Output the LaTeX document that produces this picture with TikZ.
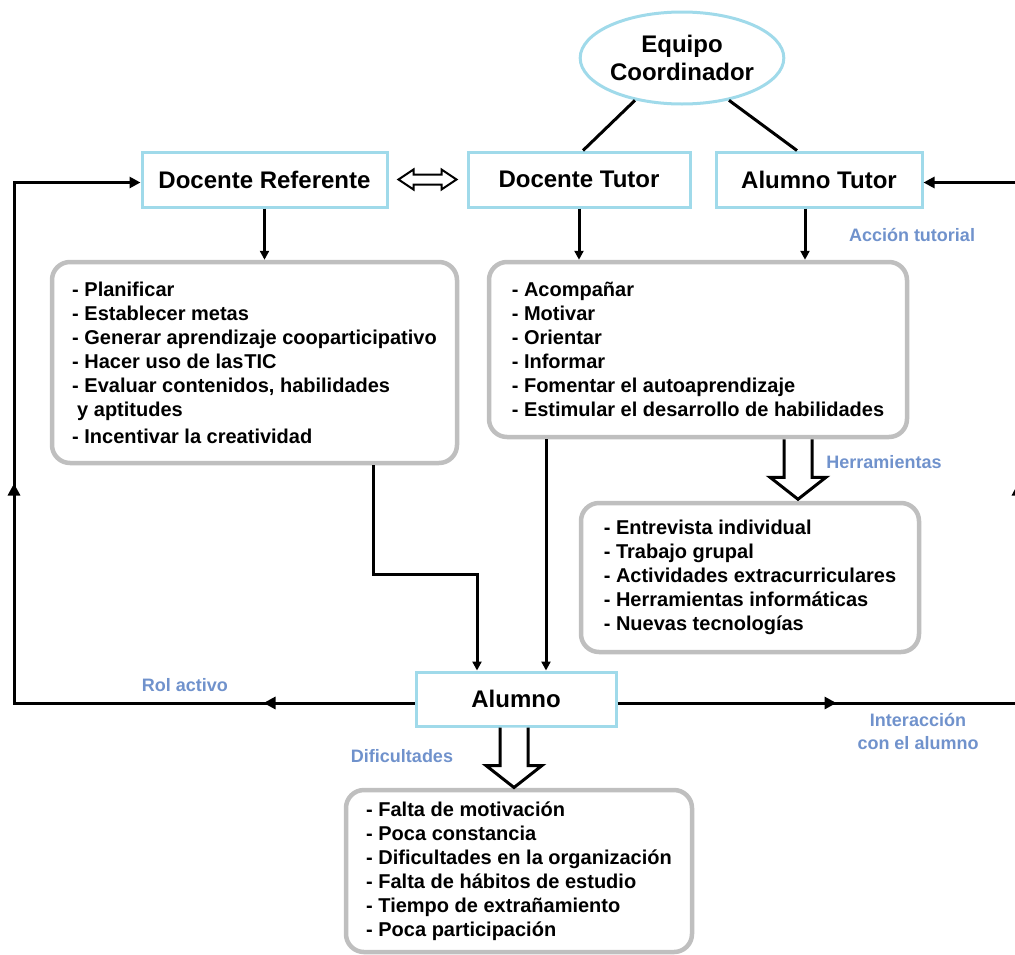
\documentclass[tikz,border=0pt]{standalone}
\usepackage{fontspec}
\setmainfont{Liberation Sans}
\usepackage{xcolor}
\usetikzlibrary{arrows.meta,positioning,shapes.geometric,decorations.markings}
\definecolor{rolecyan}{RGB}{160,218,234}
\definecolor{boxgray}{RGB}{191,191,191}
\definecolor{tagblue}{RGB}{112,146,204}

\begin{document}
\begin{tikzpicture}[
  x=1pt, y=-1pt,
  role/.style={draw=rolecyan, line width=3pt, minimum height=55pt,
               font=\fontsize{24}{28}\selectfont\bfseries},
  list/.style={draw=boxgray, line width=4.5pt, rounded corners=18pt, align=left,
               font=\fontsize{20}{24}\selectfont\bfseries},
  tag/.style={text=tagblue, align=center, font=\fontsize{18}{23}\selectfont\bfseries},
  conn/.style={line width=3pt, -{Triangle[length=9pt,width=9pt]}},
  loopline/.style={line width=3pt, -{Triangle[length=11pt,width=11pt]}, postaction={decorate}},
  hollow/.style={draw, line width=3pt, fill=white, line join=miter},
  hollowdown/.pic={\draw[hollow] (-14,0) -- (-14,38) -- (-28,38) -- (0,60) -- (28,38) -- (14,38) -- (14,0);},
  dblarrow/.pic={\draw[hollow, line width=2pt] (0,0) -- (15,-10) -- (15,-5) -- (43,-5) -- (43,-10) -- (58,0)
                 -- (43,10) -- (43,5) -- (15,5) -- (15,10) -- cycle;}
]
\useasboundingbox (0,0) rectangle (1015,954);

% coordinating team and the three roles
\node[ellipse, draw=rolecyan, line width=3pt, inner sep=0pt, minimum width=195pt, minimum height=92pt,
      align=center, font=\fontsize{24}{28}\selectfont\bfseries] (equipo) at (682,58) {Equipo\\Coordinador};
\node[role, minimum width=245pt] (docref) at (264.5,179.5) {Docente Referente};
\node[role, minimum width=222pt] (dotut) at (579,179.5) {Docente Tutor};
\node[role, minimum width=206pt] (alutut) at (819,179.5) {Alumno Tutor};
\node[role, minimum width=200pt, minimum height=54pt] (alumno) at (516,699) {Alumno};

% task lists
\node[list, minimum width=405pt, minimum height=201pt] (reflist) at (254.5,362.5) {
  - Planificar\\
  - Establecer metas\\
  - Generar aprendizaje cooparticipativo\\
  - Hacer uso de las\hspace{1pt}TIC\\
  - Evaluar contenidos, habilidades\\
  \hspace*{5pt}y aptitudes\\[3pt]
  - Incentivar la creatividad};
\node[list, minimum width=418pt, minimum height=175pt] (tutlist) at (698,349.5) {
  - Acompañar\\
  - Motivar\\
  - Orientar\\
  - Informar\\
  - Fomentar el autoaprendizaje\\
  - Estimular el desarrollo de habilidades};
\node[list, minimum width=338pt, minimum height=149pt] (herlist) at (750,577.5) {
  - Entrevista individual\\
  - Trabajo grupal\\
  - Actividades extracurriculares\\
  - Herramientas informáticas\\
  - Nuevas tecnologías};
\node[list, minimum width=346pt, minimum height=162pt] (diflist) at (519,871) {
  - Falta de motivación\\
  - Poca constancia\\
  - Dificultades en la organización\\
  - Falta de hábitos de estudio\\
  - Tiempo de extrañamiento\\
  - Poca participación};

% blue labels
\node[tag] (acctag) at (912,235) {Acción tutorial};
\node[tag] (hertag) at (884,462) {Herramientas};
\node[tag] (roltag) at (185,685) {Rol activo};
\node[tag] (inttag) at (918,731) {Interacción\\con el alumno};
\node[tag] (diftag) at (402,756) {Dificultades};

% connectors
\draw[line width=3pt] (equipo.222) -- ([xshift=4pt]dotut.north);
\draw[line width=3pt] (equipo.318) -- ([xshift=-22pt]alutut.north);
\pic at ([xshift=10pt]docref.east) {dblarrow};
\draw[conn] (docref.south) -- (docref.south |- reflist.north);
\draw[conn] (dotut.south) -- (dotut.south |- tutlist.north);
\draw[conn] ([xshift=-14pt]alutut.south) -- ([xshift=-14pt]alutut.south |- tutlist.north);
\draw[conn] ([xshift=118.5pt]reflist.south) -- ++(0,109) -| ([xshift=-39pt]alumno.north);
\draw[conn] ([xshift=-152pt]tutlist.south) -- ([xshift=-152pt]tutlist.south |- alumno.north);
\pic at ([xshift=100pt]tutlist.south) {hollowdown};
\pic at ([xshift=-2pt]alumno.south) {hollowdown};

% outer loops
\coordinate (lft) at (14,440);
\coordinate (rgt) at (1018,440);
\draw[loopline, decoration={markings,
    mark=at position 151pt with {\arrow{Triangle[length=12pt,width=12pt]}},
    mark=at position 620pt with {\arrow{Triangle[length=12pt,width=12pt]}}}]
  ([yshift=-4pt]alumno.west) -| (lft) |- ([yshift=-3pt]docref.west);
\draw[loopline, decoration={markings,
    mark=at position 219pt with {\arrow{Triangle[length=12pt,width=12pt]}},
    mark=at position 620pt with {\arrow{Triangle[length=12pt,width=12pt]}}}]
  ([yshift=-4pt]alumno.east) -| (rgt) |- ([yshift=-3pt]alutut.east);
\end{tikzpicture}
\end{document}
